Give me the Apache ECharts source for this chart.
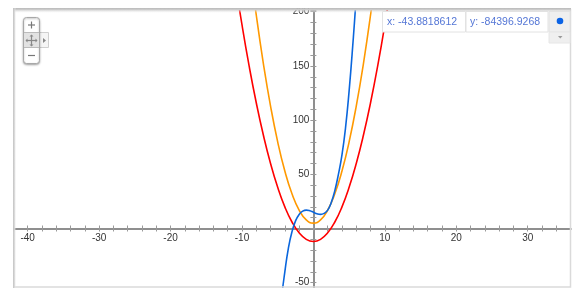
<!DOCTYPE html>
<html><head><meta charset="utf-8">
<script src="https://cdn.jsdelivr.net/npm/echarts@6/dist/echarts.min.js"></script>
<style>html,body{margin:0;padding:0;background:#fff}#c{width:581px;height:295px}</style>
</head><body><div id="c"></div>
<script>
// Values
const redX = [-11,-10,-9,-8,-7,-6,-5,-4,-3,-2,-1,0,1,2,3,4,5,6,7,8,9,10,11];
const redY = [230,188,150,116,86,60,38,20,6,-4,-10,-12,-10,-4,6,20,38,60,86,116,150,188,230];
const orangeX = [-9,-8,-7,-6,-5,-4,-3,-2,-1,0,1,2,3,4,5,6,7,8,9];
const orangeY = [248,197,152,113,80,53,32,17,8,5,8,17,32,53,80,113,152,197,248];
const blueX = [-4.75,-4.5,-4,-3.5,-3,-2.5,-2,-1.5,-1,-0.5,0,0.5,1,1.5,2,2.5,3,3.5,4,4.5,5,5.5,6,6.5];
const blueY = [-84,-66,-40,-18,-3,7,13,16,17,16.4,15,13.6,13,14,17,24,35,50,68,93,127,168,215,272];
const xTickLabels = [-40,-30,-20,-10,10,20,30];
const yTickLabels = [-50,50,100,150,200];
const infoX = 'x: -43.8818612';
const infoY = 'y: -84396.9268';

const zip = (xs, ys) => xs.map((x, i) => [x, ys[i]]);
const FONT = 'Liberation Sans, Arial, sans-serif';
const axisCol = '#8f8f8f';
const tickCol = '#9a9a9a';

const GL = 13.4, GT = 10, GW = 557.15, GH = 283.54;
const XMIN = -42, XMAX = 36, YMIN = -60, YMAX = 201.6;
const zeroY = GT + GH * (YMAX - 0) / (YMAX - YMIN);
const zeroX = GL + GW * (0 - XMIN) / (XMAX - XMIN);

function xAx(kind){
  const base = {type:'value', min:XMIN, max:XMAX, interval:2, splitLine:{show:false}};
  if (kind === 'label') {
    return Object.assign(base, {position:'bottom', offset:-(GT + GH - zeroY),
      axisLine:{show:false, onZero:false}, axisTick:{show:false},
      axisLabel:{show:true, margin:5, color:'#333', fontSize:10, fontFamily:FONT,
        formatter: v => xTickLabels.indexOf(Math.round(v*1000)/1000) >= 0 ? String(Math.round(v)) : ''}});
  }
  return Object.assign(base, {position: kind === 'down' ? 'bottom' : 'top',
    axisLine:{show:true, onZero:true, onZeroAxisIndex:0, lineStyle:{color:axisCol, width:2}},
    axisTick:{show:true, length:3, lineStyle:{color:tickCol, width:1}},
    axisLabel:{show:false}});
}
function yAx(kind){
  const base = {type:'value', min:YMIN, max:YMAX, interval:10, splitLine:{show:false}};
  if (kind === 'label') {
    return Object.assign(base, {position:'left', offset:-(zeroX - GL),
      axisLine:{show:false, onZero:false}, axisTick:{show:false},
      axisLabel:{show:true, margin:4, color:'#333', fontSize:10, fontFamily:FONT,
        formatter: v => yTickLabels.indexOf(Math.round(v*1000)/1000) >= 0 ? String(Math.round(v)) : ''}});
  }
  return Object.assign(base, {position: kind === 'left' ? 'left' : 'right',
    axisLine:{show:true, onZero:true, onZeroAxisIndex:0, lineStyle:{color:axisCol, width:2}},
    axisTick:{show:true, length:3, lineStyle:{color:tickCol, width:1}},
    axisLabel:{show:false}});
}
function line(xs, ys, color){
  return {type:'line', data:zip(xs, ys), smooth:true, showSymbol:false, silent:true,
    lineStyle:{color:color, width:1.6}, z:3};
}

const graphics = [
  {type:'rect', shape:{x:0,y:0,width:581,height:8}, style:{fill:'#fff'}, z:100, silent:true},
  {type:'rect', shape:{x:0,y:288,width:581,height:7}, style:{fill:'#fff'}, z:100, silent:true},
  {type:'rect', shape:{x:0,y:0,width:13,height:295}, style:{fill:'#fff'}, z:100, silent:true},
  {type:'rect', shape:{x:572,y:0,width:9,height:295}, style:{fill:'#fff'}, z:100, silent:true},
  {type:'rect', shape:{x:14,y:9.5,width:556.5,height:277.5}, style:{fill:'none', stroke:'#dadada', lineWidth:1.5}, z:101, silent:true},
  {type:'rect', shape:{x:13,y:8,width:558,height:4.5},
    style:{fill:new echarts.graphic.LinearGradient(0,0,0,1,[{offset:0,color:'rgba(180,180,180,1)'},{offset:1,color:'rgba(230,230,230,0.2)'}])}, z:101, silent:true},
  {type:'rect', shape:{x:13,y:8,width:3,height:280},
    style:{fill:new echarts.graphic.LinearGradient(0,0,1,0,[{offset:0,color:'rgba(190,190,190,1)'},{offset:1,color:'rgba(235,235,235,0.2)'}])}, z:101, silent:true},
  {type:'rect', shape:{x:23.5,y:17.5,width:16,height:46,r:3}, style:{fill:'#fff', stroke:'#a8a8a8', lineWidth:1, shadowBlur:2, shadowOffsetY:1, shadowColor:'rgba(0,0,0,0.3)'}, z:110, silent:true},
  {type:'rect', shape:{x:24,y:33,width:15,height:15}, style:{fill:'#e2e2e2'}, z:111, silent:true},
  {type:'line', shape:{x1:24,y1:32.5,x2:39,y2:32.5}, style:{stroke:'#bbb', lineWidth:1}, z:112, silent:true},
  {type:'line', shape:{x1:24,y1:47.5,x2:39,y2:47.5}, style:{stroke:'#bbb', lineWidth:1}, z:112, silent:true},
  {type:'line', shape:{x1:28,y1:25,x2:35,y2:25}, style:{stroke:'#777', lineWidth:1.2}, z:112, silent:true},
  {type:'line', shape:{x1:31.5,y1:21.5,x2:31.5,y2:28.5}, style:{stroke:'#777', lineWidth:1.2}, z:112, silent:true},
  {type:'line', shape:{x1:28,y1:55.5,x2:35,y2:55.5}, style:{stroke:'#777', lineWidth:1.2}, z:112, silent:true},
  {type:'line', shape:{x1:26,y1:40.5,x2:37,y2:40.5}, style:{stroke:'#888', lineWidth:1.2}, z:112, silent:true},
  {type:'line', shape:{x1:31.5,y1:35,x2:31.5,y2:46}, style:{stroke:'#888', lineWidth:1.2}, z:112, silent:true},
  {type:'polygon', shape:{points:[[25.5,40.5],[27.5,38.5],[27.5,42.5]]}, style:{fill:'#888'}, z:112, silent:true},
  {type:'polygon', shape:{points:[[37.5,40.5],[35.5,38.5],[35.5,42.5]]}, style:{fill:'#888'}, z:112, silent:true},
  {type:'polygon', shape:{points:[[31.5,34.5],[29.5,36.5],[33.5,36.5]]}, style:{fill:'#888'}, z:112, silent:true},
  {type:'polygon', shape:{points:[[31.5,46.5],[29.5,44.5],[33.5,44.5]]}, style:{fill:'#888'}, z:112, silent:true},
  {type:'rect', shape:{x:39.5,y:32.5,width:9,height:15}, style:{fill:'#f5f5f5', stroke:'#cfcfcf', lineWidth:1}, z:109, silent:true},
  {type:'polygon', shape:{points:[[43,38],[46,40.5],[43,43]]}, style:{fill:'#888'}, z:110, silent:true},
  {type:'rect', shape:{x:382.5,y:11.5,width:83,height:20.5}, style:{fill:'#fff', stroke:'#e2e2e2', lineWidth:1}, z:110, silent:true},
  {type:'rect', shape:{x:466,y:11.5,width:82,height:20.5}, style:{fill:'#fff', stroke:'#e2e2e2', lineWidth:1}, z:110, silent:true},
  {type:'rect', shape:{x:549,y:11.5,width:21,height:20.5}, style:{fill:'#efefef', stroke:'#e2e2e2', lineWidth:1}, z:110, silent:true},
  {type:'rect', shape:{x:549,y:32,width:21,height:11}, style:{fill:'#efefef', stroke:'#e6e6e6', lineWidth:1}, z:110, silent:true},
  {type:'circle', shape:{cx:560,cy:21,r:3.3}, style:{fill:'#0b63e5'}, z:111, silent:true},
  {type:'polygon', shape:{points:[[558,36],[562.5,36],[560.25,38.5]]}, style:{fill:'#999'}, z:111, silent:true},
  {type:'text', x:387, y:21.8, style:{text:infoX, fill:'#5577d6', font:'10.5px ' + FONT, verticalAlign:'middle'}, z:111, silent:true},
  {type:'text', x:470, y:21.8, style:{text:infoY, fill:'#5577d6', font:'10.5px ' + FONT, verticalAlign:'middle'}, z:111, silent:true}
];

const chart = echarts.init(document.getElementById('c'), null, {renderer:'canvas'});
chart.setOption({
  animation:false,
  backgroundColor:'#fff',
  grid:{left:GL, top:GT, width:GW, height:GH, containLabel:false, outerBoundsMode:'none'},
  xAxis:[xAx('down'), xAx('up'), xAx('label')],
  yAxis:[yAx('left'), yAx('right'), yAx('label')],
  series:[
    line(redX, redY, '#ff0000'),
    line(orangeX, orangeY, '#ff9900'),
    line(blueX, blueY, '#0a66dd')
  ],
  graphic:graphics
});
</script></body></html>
